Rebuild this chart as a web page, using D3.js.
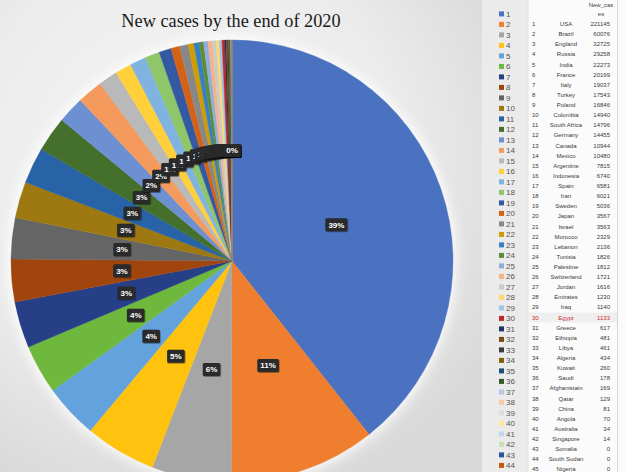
<!DOCTYPE html>
<html>
<head>
<meta charset="utf-8">
<script src="https://cdn.jsdelivr.net/npm/d3@7"></script>
<style>
  html, body { margin: 0; padding: 0; background: #ffffff; }
  svg { display: block; }
</style>
</head>
<body>
<svg id="chart" width="625" height="472"></svg>
<script>
// ---- data ----
const titleText = "New cases by the end of 2020";
const valueHeader = ["New_cas", "es"];
const highlightCountry = "Egypt";

const countries = [
  "USA", "Brazil", "England", "Russia", "India", "France", "Italy", "Turkey",
  "Poland", "Colombia", "South Africa", "Germany", "Canada", "Mexico",
  "Argentine", "Indonesia", "Spain", "Iran", "Sweden", "Japan", "Israel",
  "Morocco", "Lebanon", "Tunisia", "Palestine", "Switzerland", "Jordan",
  "Emirates", "Iraq", "Egypt", "Greece", "Ethiopia", "Libya", "Algeria",
  "Kuwait", "Saudi", "Afghanistain", "Qatar", "China", "Angola", "Australia",
  "Singapore", "Somalia", "South Sudan", "Nigeria"
];

const newCases = [
  221145, 60076, 32725, 29258, 22273, 20199, 19037, 17543,
  16846, 14940, 14796, 14455, 10944, 10480,
  7815, 6740, 6581, 6021, 5036, 3567, 3563,
  2329, 2136, 1826, 1812, 1721, 1616,
  1230, 1140, 1133, 617, 481, 461, 434,
  260, 178, 169, 129, 81, 70, 34,
  14, 0, 0, 0
];

const sliceColors = [
  "#4a72c0", "#ef7e2e", "#a6a6a6", "#ffc20e", "#63a2dc", "#6fb83e",
  "#263f86", "#a1450f", "#666666", "#9e7810", "#2763a6", "#44702c",
  "#6d90d2", "#f49a5c", "#b9b9b9", "#ffd03a", "#80b3e0", "#8fc66a",
  "#3459a3", "#d56214", "#878787", "#cf9c02", "#3480c4", "#5c8d39",
  "#92addd", "#f5b386", "#cbcbcb", "#ffda69", "#a0c5e8", "#c0262c",
  "#1f3564", "#7a4a12", "#3d3d3d", "#7f6204", "#1f4f7a", "#385a24",
  "#b5c8e8", "#f8cbad", "#dcdcdc", "#ffe79b", "#bfd8ef", "#c6e1b5",
  "#2f5597", "#c55a11", "#7b7b7b"
];

// ---- layout ----
const svg = d3.select("#chart");
const W = 625, H = 472;
const cx = 232, cy = 261, R = 221;

const defs = svg.append("defs");

// soft grey backdrop, brightest around the pie
const bg = defs.append("radialGradient")
  .attr("id", "bgGrad")
  .attr("cx", 0.38).attr("cy", 0.35).attr("r", 0.75);
bg.append("stop").attr("offset", "0%").attr("stop-color", "#f6f6f6");
bg.append("stop").attr("offset", "60%").attr("stop-color", "#ececec");
bg.append("stop").attr("offset", "100%").attr("stop-color", "#d9d9d9");

const halo = defs.append("filter").attr("id", "halo")
  .attr("x", "-20%").attr("y", "-20%").attr("width", "140%").attr("height", "140%");
halo.append("feGaussianBlur").attr("stdDeviation", 6);

const shadow = defs.append("filter").attr("id", "lblShadow")
  .attr("x", "-30%").attr("y", "-30%").attr("width", "160%").attr("height", "160%");
shadow.append("feDropShadow")
  .attr("dx", 0.6).attr("dy", 0.8).attr("stdDeviation", 0.6)
  .attr("flood-color", "#000").attr("flood-opacity", 0.45);

svg.append("rect").attr("width", 482).attr("height", H).attr("fill", "url(#bgGrad)");

// ---- title ----
svg.append("text")
  .attr("x", 231).attr("y", 27)
  .attr("text-anchor", "middle")
  .attr("font-family", "'Liberation Serif', 'DejaVu Serif', serif")
  .attr("font-size", 18.3)
  .attr("fill", "#1a1a1a")
  .text(titleText);

// ---- pie ----
const total = d3.sum(newCases);
const pie = d3.pie().sort(null).value(d => d);
const arcs = pie(newCases);
const arc = d3.arc().innerRadius(0).outerRadius(R);
const labelArc = d3.arc().innerRadius(R / 2).outerRadius(R / 2);

const g = svg.append("g").attr("transform", `translate(${cx},${cy})`);

g.append("circle").attr("r", R + 3).attr("fill", "#ffffff")
  .attr("opacity", 0.9).attr("filter", "url(#halo)");

g.selectAll("path.slice")
  .data(arcs)
  .join("path")
  .attr("class", "slice")
  .attr("d", arc)
  .attr("fill", (d, i) => sliceColors[i])
  .attr("stroke", (d, i) => sliceColors[i])
  .attr("stroke-width", 0.4);

// ---- percentage labels (drawn in series order, later ones on top) ----
const pct = d3.format(".0%");
const labels = g.selectAll("g.lbl")
  .data(arcs)
  .join("g")
  .attr("class", "lbl")
  .attr("transform", d => `translate(${labelArc.centroid(d)})`);

labels.each(function (d) {
  const lg = d3.select(this);
  const rect = lg.append("rect").attr("fill", "#2a2a2a").attr("rx", 1.5)
    .attr("filter", "url(#lblShadow)");
  const t = lg.append("text")
    .attr("text-anchor", "middle")
    .attr("dy", "0.35em")
    .attr("font-family", "'Liberation Sans', Arial, sans-serif")
    .attr("font-weight", "bold")
    .attr("font-size", 8)
    .attr("fill", "#ffffff")
    .text(pct(d.data / total));
  const w = t.node().getComputedTextLength() + 6;
  const h = 13;
  rect.attr("x", -w / 2).attr("y", -h / 2).attr("width", w).attr("height", h);
});

// ---- legend column (entries that fit in the view) ----
const legendX = 482;
svg.append("rect").attr("x", legendX).attr("y", 0)
  .attr("width", 46).attr("height", H).attr("fill", "#ebebeb");

const legendY = d3.scaleLinear().domain([0, 1]).range([14, 24.5]);
const legend = svg.append("g");
countries.forEach((c, i) => {
  const y = legendY(i);
  if (y + 4 > H) return;
  legend.append("rect")
    .attr("x", 499).attr("y", y - 2.6)
    .attr("width", 5).attr("height", 5)
    .attr("fill", sliceColors[i]);
  legend.append("text")
    .attr("x", 506).attr("y", y).attr("dy", "0.35em")
    .attr("font-family", "'Liberation Sans', Arial, sans-serif")
    .attr("font-size", 8)
    .attr("fill", "#555")
    .text(i + 1);
});

// ---- data table ----
svg.append("rect").attr("x", 528).attr("y", 0)
  .attr("width", 97).attr("height", H).attr("fill", "#fbfbfb");
svg.append("line").attr("x1", 528).attr("x2", 528).attr("y1", 0).attr("y2", H)
  .attr("stroke", "#e2e2e2").attr("stroke-width", 1);
svg.append("line").attr("x1", 617.5).attr("x2", 617.5).attr("y1", 0).attr("y2", H)
  .attr("stroke", "#d6d6d6").attr("stroke-width", 1);

const tableFont = "'Liberation Sans', Arial, sans-serif";
valueHeader.forEach((s, k) => {
  svg.append("text")
    .attr("x", 601).attr("y", 5 + k * 9).attr("dy", "0.35em")
    .attr("text-anchor", "middle")
    .attr("font-family", tableFont).attr("font-size", 6)
    .attr("fill", "#444").text(s);
});

const rowY = d3.scaleLinear().domain([0, 1]).range([24, 34.12]);
const table = svg.append("g");
countries.forEach((c, i) => {
  const y = rowY(i);
  const hi = c === highlightCountry;
  const col = hi ? "#d0262c" : "#3a3a3a";
  if (hi) {
    table.append("rect").attr("x", 529).attr("y", y - 5)
      .attr("width", 88).attr("height", 10).attr("fill", "#efefef");
  }
  table.append("text")
    .attr("x", 532).attr("y", y).attr("dy", "0.35em")
    .attr("font-family", tableFont).attr("font-size", 6)
    .attr("fill", col).text(i + 1);
  table.append("text")
    .attr("x", 566).attr("y", y).attr("dy", "0.35em")
    .attr("text-anchor", "middle")
    .attr("font-family", tableFont).attr("font-size", 6)
    .attr("fill", col).text(c);
  table.append("text")
    .attr("x", 610).attr("y", y).attr("dy", "0.35em")
    .attr("text-anchor", "end")
    .attr("font-family", tableFont).attr("font-size", 6)
    .attr("fill", col).text(newCases[i]);
});
</script>
</body>
</html>
